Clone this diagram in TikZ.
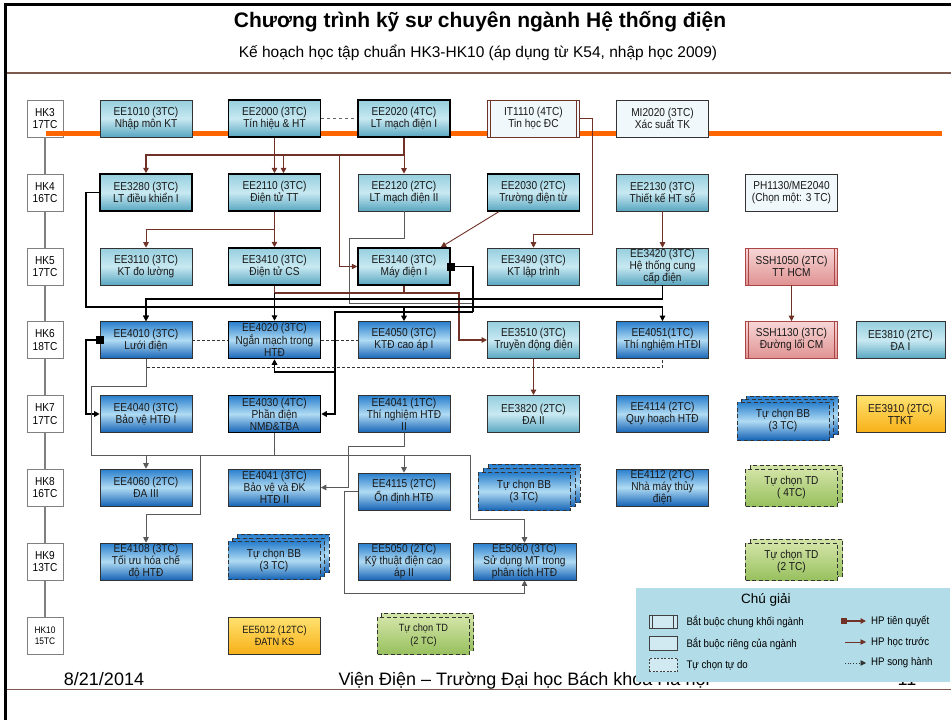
\documentclass[tikz,border=0pt]{standalone}
\usepackage{fontspec}
\setmainfont{Liberation Sans}
\newfontfamily\boxfont{Liberation Sans}[FakeStretch=0.88]
\usepackage{tikz}
\usetikzlibrary{arrows.meta,positioning,calc}
\definecolor{hpbrown}{RGB}{112,50,38}
\definecolor{barorange}{RGB}{255,102,0}
\definecolor{tealtop}{RGB}{150,206,222}
\definecolor{tealmid}{RGB}{200,233,242}
\definecolor{tealbot}{RGB}{88,166,192}
\definecolor{bluetop}{RGB}{40,126,204}
\definecolor{bluemid}{RGB}{176,219,243}
\definecolor{bluebot}{RGB}{22,100,182}
\definecolor{palebox}{RGB}{241,248,251}
\definecolor{pinktop}{RGB}{247,214,214}
\definecolor{pinkbot}{RGB}{224,146,146}
\definecolor{pinkedge}{RGB}{170,70,70}
\definecolor{goldtop}{RGB}{255,226,112}
\definecolor{goldbot}{RGB}{247,176,24}
\definecolor{greentop}{RGB}{210,228,166}
\definecolor{greenbot}{RGB}{152,192,94}
\definecolor{legendbg}{RGB}{178,220,232}
\definecolor{rulebrown}{RGB}{125,90,80}

\newcommand{\sidebars}[2]{%
  \draw[#2, line width=0.7pt] ([xshift=3.5pt]#1.north west) -- ([xshift=3.5pt]#1.south west)
    ([xshift=-3.5pt]#1.north east) -- ([xshift=-3.5pt]#1.south east);}

\begin{document}
\begin{tikzpicture}[x=1pt, y=-1pt,
    >={Triangle[length=5.5pt,width=5.5pt]},
    hk/.style={draw=black!50, fill=white, minimum width=36pt, minimum height=37pt, inner sep=0pt, align=center, font=\boxfont\fontsize{11.5}{12.5}\selectfont},
    crs/.style={draw=black!80, line width=0.6pt, minimum width=92pt, minimum height=37pt, inner sep=0pt, align=center, text=black!90, font=\boxfont\fontsize{11.5}{12}\selectfont},
    heavy/.style={line width=1.5pt, draw=black},
    tealc/.style={crs, top color=tealtop, bottom color=tealbot, middle color=tealmid},
    bluec/.style={crs, top color=bluetop, bottom color=bluebot, middle color=bluemid},
    palec/.style={crs, fill=palebox},
    pinkc/.style={crs, draw=pinkedge, top color=pinktop, bottom color=pinkbot},
    goldc/.style={crs, top color=goldtop, bottom color=goldbot},
    greenc/.style={crs, line width=0.8pt, dash pattern=on 4pt off 2.5pt, top color=greentop, bottom color=greenbot},
    bbc/.style={bluec, line width=0.8pt, dash pattern=on 4pt off 2.5pt, minimum height=38pt},
    hpfirst/.style={draw=hpbrown, line width=1.6pt, ->},
    hpthin/.style={draw=hpbrown, line width=0.9pt, ->},
    tq/.style={draw=black, line width=1.3pt},
    bus/.style={draw=black!65, line width=0.9pt},
    sh/.style={draw=black!80, line width=0.7pt, densely dashed},
    legsym/.style={draw=black!75, line width=0.6pt, fill=legendbg!60!white, minimum width=28pt, minimum height=13.5pt, inner sep=0pt},
    legtxt/.style={font=\boxfont\fontsize{11}{12}\selectfont, inner sep=0pt, anchor=west}
]
\useasboundingbox (0,0) rectangle (951,720);
\fill[white] (0,0) rectangle (951,720);
\draw[line width=3pt] (5,720) -- (5,4) -- (951,4);

\node[font=\bfseries\fontsize{21}{23}\selectfont] (title) at (480,22) {Chương trình kỹ sư chuyên ngành Hệ thống điện};
\node[font=\fontsize{15.5}{17}\selectfont] (subtitle) at (478,53) {Kế hoạch học tập chuẩn HK3-HK10 (áp dụng từ K54, nhập học 2009)};
\coordinate (ruleL) at (7,73);
\coordinate (ruleR) at (951,73);
\draw[rulebrown, line width=1.4pt] (ruleL) -- (ruleR);

\coordinate (hktop) at (45,118);
\coordinate (hkbot) at (45,635);
\draw[black!50, line width=1.2pt] (hktop) -- (hkbot);
\node[hk] (hk3) at (45,118.5) {HK3\\17TC};
\node[hk] (hk4) at (45,192.5) {HK4\\16TC};
\node[hk] (hk5) at (45,266.5) {HK5\\17TC};
\node[hk] (hk6) at (45,340) {HK6\\18TC};
\node[hk] (hk7) at (45,414) {HK7\\17TC};
\node[hk] (hk8) at (45,487.5) {HK8\\16TC};
\node[hk] (hk9) at (45,561.5) {HK9\\13TC};
\node[hk, font=\boxfont\fontsize{9.5}{11.5}\selectfont] (hk10) at (45,635.5) {HK10\\15TC};

\coordinate (barL) at (46,133);
\coordinate (barR) at (942,133);
\draw[barorange, line width=5pt] (barL) -- (barR);

% HK3
\node[tealc] (ee1010) at (146,118.5) {EE1010 (3TC)\\Nhập môn KT};
\node[tealc, heavy] (ee2000) at (274.5,118.5) {EE2000 (3TC)\\Tín hiệu \& HT};
\node[tealc, heavy] (ee2020) at (404,118.5) {EE2020 (4TC)\\LT mạch điện I};
\node[palec, draw=hpbrown] (it1110) at (533.5,118.5) {IT1110 (4TC)\\Tin học ĐC};
\node[palec] (mi2020) at (662.5,118.5) {MI2020 (3TC)\\Xác suất TK};
% HK4
\node[tealc, heavy] (ee3280) at (146,192.5) {EE3280 (3TC)\\LT điều khiển I};
\node[tealc, heavy] (ee2110) at (274.5,192.5) {EE2110 (3TC)\\Điện tử TT};
\node[tealc] (ee2120) at (404,192.5) {EE2120 (2TC)\\LT mạch điện II};
\node[tealc, heavy] (ee2030) at (533.5,192.5) {EE2030 (2TC)\\Trường điện từ};
\node[tealc] (ee2130) at (662.5,192.5) {EE2130 (3TC)\\Thiết kế HT số};
\node[palec] (ph1130) at (791.5,192.5) {PH1130/ME2040\\(Chọn một: 3 TC)};
% HK5
\node[tealc] (ee3110) at (146,266.5) {EE3110 (3TC)\\KT đo lường};
\node[tealc, heavy] (ee3410) at (274.5,266.5) {EE3410 (3TC)\\Điện tử CS};
\node[tealc, heavy] (ee3140) at (404,266.5) {EE3140 (3TC)\\Máy điện I};
\node[tealc] (ee3490) at (533.5,266.5) {EE3490 (3TC)\\KT lập trình};
\node[tealc] (ee3420) at (662.5,266.5) {EE3420 (3TC)\\Hệ thống cung\\cấp điện};
\node[pinkc] (ssh1050) at (791.5,266.5) {SSH1050 (2TC)\\TT HCM};
% HK6
\node[bluec] (ee4010) at (146,340) {EE4010 (3TC)\\Lưới điện};
\node[bluec, heavy] (ee4020) at (274.5,340) {EE4020 (3TC)\\Ngắn mạch trong\\HTĐ};
\node[bluec] (ee4050) at (404,340) {EE4050 (3TC)\\KTĐ cao áp I};
\node[tealc, line width=1pt] (ee3510) at (533.5,340) {EE3510 (3TC)\\Truyền động điện};
\node[bluec] (ee4051) at (662.5,340) {EE4051(1TC)\\Thí nghiệm HTĐI};
\node[pinkc] (ssh1130) at (791.5,340) {SSH1130 (3TC)\\Đường lối CM};
\node[tealc, minimum width=89pt] (ee3810) at (900.5,340) {EE3810 (2TC)\\ĐA I};
% HK7
\node[bluec] (ee4040) at (146,414) {EE4040 (3TC)\\Bảo vệ HTĐ I};
\node[bluec, heavy] (ee4030) at (274.5,414) {EE4030 (4TC)\\Phần điện\\NMĐ\&TBA};
\node[bluec] (ee4041a) at (404,414) {EE4041 (1TC)\\Thí nghiệm HTĐ\\II};
\node[tealc, line width=1pt] (ee3820) at (533.5,414) {EE3820 (2TC)\\ĐA II};
\node[bluec] (ee4114) at (662.5,414) {EE4114 (2TC)\\Quy hoạch HTĐ};
\node[bbc] (bb7c) at (792,415) {};
\node[bbc] (bb7b) at (787.5,418) {};
\node[bbc] (bb7) at (783,421) {Tự chọn BB\\(3 TC)};
\node[goldc, minimum width=89pt] (ee3910) at (900.5,414) {EE3910 (2TC)\\TTKT};
% HK8
\node[bluec] (ee4060) at (146,487.5) {EE4060 (2TC)\\ĐA III};
\node[bluec] (ee4041b) at (274.5,487.5) {EE4041 (3TC)\\Bảo vệ và ĐK\\HTĐ II};
\node[bluec] (ee4115) at (404,491.5) {EE4115 (2TC)\\Ổn định HTĐ};
\node[bbc] (bb8c) at (534,483.5) {};
\node[bbc] (bb8b) at (529,487.5) {};
\node[bbc] (bb8) at (524,491.5) {Tự chọn BB\\(3 TC)};
\node[bluec] (ee4112) at (662.5,487.5) {EE4112 (2TC)\\Nhà máy thủy\\điện};
\node[greenc] (td8b) at (796.5,483.5) {};
\node[greenc] (td8) at (791.5,487.5) {Tự chọn TD\\( 4TC)};
% HK9
\node[bluec] (ee4108) at (146,561.5) {EE4108 (3TC)\\Tối ưu hóa chế\\độ HTĐ};
\node[bbc] (bb9c) at (283,553.5) {};
\node[bbc] (bb9b) at (278.5,557) {};
\node[bbc] (bb9) at (274,560.5) {Tự chọn BB\\(3 TC)};
\node[bluec] (ee5050) at (404,561.5) {EE5050 (2TC)\\Kỹ thuật điện cao\\áp II};
\node[bluec, minimum width=103pt] (ee5060) at (524.5,561.5) {EE5060 (3TC)\\Sử dụng MT trong\\phân tích HTĐ};
\node[greenc] (td9b) at (796.5,557.5) {};
\node[greenc] (td9) at (791.5,561.5) {Tự chọn TD\\(2 TC)};
% HK10
\node[goldc, font=\boxfont\fontsize{10.5}{12.5}\selectfont] (ee5012) at (274.5,635.5) {EE5012 (12TC)\\ĐATN KS};
\node[greenc] (td10b) at (427.5,632) {};
\node[greenc, font=\boxfont\fontsize{10.5}{12.5}\selectfont] (td10) at (423.5,635.5) {Tự chọn TD\\(2 TC)};

\sidebars{it1110}{hpbrown}
\sidebars{ssh1050}{pinkedge}
\sidebars{ssh1130}{pinkedge}

% connectors
\draw[dashed, black!60, line width=0.7pt] (ee2000) -- (ee2020);
\coordinate (r20) at (404,155);
\coordinate (r20b) at (339,155);
\draw[hpfirst] (ee2000) -- (ee2110);
\draw[hpfirst] (ee2020) -- (r20) -| (ee3280);
\draw[hpfirst] ([xshift=9pt]ee2110.north |- r20) -- ([xshift=9pt]ee2110.north);
\draw[hpthin] (r20) -- (ee2120);
\draw[hpthin] (r20b) |- (ee3140);
\coordinate (it1) at (592,234);
\draw[hpthin] (it1110.east) -| (it1) -| (ee3490);
\draw[hpthin] ([xshift=12pt]ee2030.south west) -- ([xshift=-10pt]ee3140.north east);
\draw[hpthin] (ee2130) -- (ee3420);
\draw[hpthin] (ssh1050) -- (ssh1130);
\coordinate (r21) at (274.5,229);
\draw[hpthin] (r21) -| (ee3110);
\draw[hpfirst] (ee2110) -- (ee3410);

\coordinate (r22) at (349,238);
\coordinate (r22b) at (473,303);
\draw[bus] (ee2120.south) |- (r22) |- (r22b);

\coordinate (r35) at (459,293);
\draw[hpfirst] (ee3410.south) |- (r35) |- (ee3510);
\draw[hpfirst, -] (ee3140.south) -- (ee3140.south |- r35);

\coordinate (r32) at (86,307);
\draw[tq,->] (ee3280.west) -| (r32) -| (ee4051);
\draw[tq,->] (ee4010.north |- r32) -- (ee4010);
\draw[tq,->] (ee3410.south |- r35) -- (ee4020);
\draw[tq,->] (ee4050.north |- r32) -- (ee4050);

\coordinate (r34) at (146,299);
\draw[tq,->] (ee3420.south) |- (r34) -- (ee4010);

\coordinate (r31) at (473,312);
\coordinate (r31b) at (335,372);
\draw[tq, {Square[length=8pt,width=8pt]}-] ([xshift=-4pt]ee3140.east) -| (r31);
\draw[tq,->] (r31) -| (r31b) |- (ee4030);
\draw[tq,->] (r31b) -| (ee4020);

\draw[hpfirst] (ee3510) -- (ee3820);
\draw[sh] (ee4010) -- (ee4020);
\draw[sh] (ee4020) -- (ee4050);
\draw[sh] (ee4010.south) |- ([yshift=-9pt]ee4051.south) -- (ee4051.south);

\coordinate (r40) at (86,380);
\draw[tq, {Square[length=8pt,width=8pt]}->] ([xshift=4pt]ee4010.west) -| (r40) |- (ee4040);

\coordinate (r41) at (91,386);
\coordinate (r42) at (91,455);
\coordinate (r43) at (470,455);
\coordinate (r44) at (524.5,519);
\draw[bus,->] (ee4010.south) |- (r41) -- (r42) -- (r43) |- (r44) -- (ee5060);
\draw[bus,->] (ee4060.north |- r42) -- (ee4060);
\draw[bus] (ee4030) -- (ee4030.south |- r42);
\coordinate (r45) at (200,455);
\coordinate (r46) at (200,514);
\draw[bus,->] (r45) -- (r46) -| (ee4108);
\draw[bus,->] (ee4115.north |- r42) -- (ee4115);
\coordinate (r47) at (348,446);
\draw[bus,->] (ee4041a.south) |- (r47) |- (ee4041b);
\coordinate (r48) at (344,593);
\draw[bus,->] (ee4115.west) -| (r48) -| (ee5060);

% footer
\node[font=\fontsize{18}{20}\selectfont, anchor=base] (date) at (104,685) {8/21/2014};
\node[font=\fontsize{18}{20}\selectfont, anchor=base west] (inst) at (335,685) {Viện Điện – Trường Đại học Bách khoa Hà nội};
\node[font=\fontsize{18}{20}\selectfont, anchor=base] (page) at (907,685) {11};
\coordinate (footL) at (7,689);
\coordinate (footR) at (951,689);
\draw[rulebrown, line width=1pt] (footL) -- (footR);

% legend
\node[fill=legendbg, minimum width=314pt, minimum height=94pt, inner sep=0pt] (legend) at (793,635) {};
\node[fill=legendbg, font=\fontsize{13.5}{15}\selectfont, inner sep=2pt] (legtitle) at (766,600) {Chú giải};
\draw[draw=black!60, line width=0.7pt, double=legendbg, double distance=3.5pt] ([xshift=3pt]legend.west |- legtitle.west) -- (legtitle.west);
\draw[draw=black!60, line width=0.7pt, double=legendbg, double distance=3.5pt] (legtitle.east) -- ([xshift=-3pt]legend.east |- legtitle.east);
\node[legsym] (sym1) at (663,622) {};
\node[legsym] (sym2) at (663,643.5) {};
\node[legsym, dash pattern=on 2pt off 1.5pt] (sym3) at (663,665) {};
\sidebars{sym1}{black!75}
\node[legtxt, right=9pt of sym1] (lt1) {Bắt buộc chung khối ngành};
\node[legtxt, right=9pt of sym2] (lt2) {Bắt buộc riêng của ngành};
\node[legtxt, right=9pt of sym3] (lt3) {Tự chọn tự do};
\coordinate (la1) at (841,621);
\coordinate (lb1) at (866,621);
\coordinate (la2) at (845,642);
\coordinate (lb2) at (866,642);
\coordinate (la3) at (845,663);
\coordinate (lb3) at (866,663);
\draw[hpfirst, {Square[length=6pt,width=6pt]}-{Triangle[length=5.5pt,width=5.5pt]}] (la1) -- (lb1);
\draw[hpthin] (la2) -- (lb2);
\draw[sh, dotted, ->] (la3) -- (lb3);
\node[legtxt, right=5pt of lb1] (lh1) {HP tiên quyết};
\node[legtxt, right=5pt of lb2] (lh2) {HP học trước};
\node[legtxt, right=5pt of lb3] (lh3) {HP song hành};
\end{tikzpicture}
\end{document}
